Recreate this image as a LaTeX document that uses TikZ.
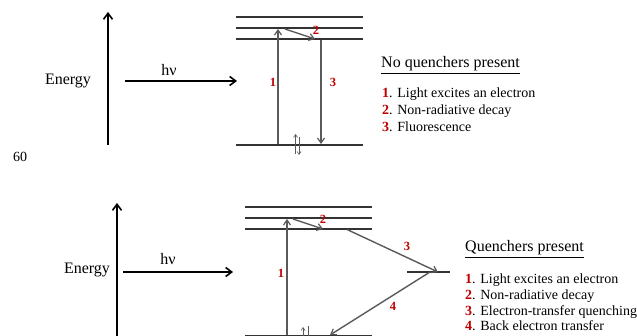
\documentclass[tikz,border=0pt]{standalone}
\usepackage{fontspec}
\setmainfont{Liberation Serif}
\usetikzlibrary{arrows.meta}
\definecolor{lvl}{HTML}{333333}
\definecolor{arr}{HTML}{5A5A5A}
\definecolor{nred}{HTML}{C00000}
\newcommand{\rn}[1]{\textcolor{nred}{\textbf{#1}}}
\begin{document}
\begin{tikzpicture}[x=1pt,y=-1pt,
  level/.style={draw=lvl,line width=1.8pt},
  trans/.style={draw=arr,line width=1.4pt,-{Straight Barb[length=5pt,width=7pt,line width=1.2pt]}},
  axis/.style={draw=black,line width=1.8pt,-{Straight Barb[length=6pt,width=9pt,line width=1.6pt]}},
  spin/.style={draw=arr,line width=0.6pt,-{Straight Barb[length=3pt,width=4pt]}},
  num/.style={text=nred,font=\fontsize{12.5}{14}\selectfont\bfseries,inner sep=0pt},
  big/.style={font=\fontsize{16}{19}\selectfont,inner sep=0pt},
  item/.style={font=\fontsize{14}{17}\selectfont,inner sep=0pt,anchor=base west},
  ttl/.style={font=\fontsize{16}{19}\selectfont,inner sep=0pt,anchor=base west}]
\useasboundingbox (0,0) rectangle (637,336);
\fill[white] (0,0) rectangle (637,336);

% ---------- top diagram ----------
\coordinate (eA0) at (108,145); \coordinate (eA1) at (108,12);
\draw[axis] (eA0) -- (eA1);
\node[big] (en1) at (68,81) {Energy};
\coordinate (hA0) at (125,81); \coordinate (hA1) at (237,81);
\draw[axis] (hA0) -- (hA1);
\node[big] (hv1) at (169,70) {hν};

\coordinate (aL1) at (236,17); \coordinate (aR1) at (363,17);
\coordinate (aL2) at (236,28); \coordinate (aR2) at (363,28);
\coordinate (aL3) at (236,39); \coordinate (aR3) at (363,39);
\coordinate (aLg) at (236,145); \coordinate (aRg) at (363,145);
\draw[level] (aL1) -- (aR1);
\draw[level] (aL2) -- (aR2);
\draw[level] (aL3) -- (aR3);
\draw[level] (aLg) -- (aRg);

\coordinate (t1a) at (278,144); \coordinate (t1b) at (278,29);
\coordinate (t2a) at (285,29); \coordinate (t2b) at (315,39);
\coordinate (t3a) at (321,40); \coordinate (t3b) at (321,144);
\draw[trans] (t1a) -- (t1b);
\draw[trans] (t2a) -- (t2b);
\draw[trans] (t3a) -- (t3b);
\node[num] (n1a) at (273,82) {1};
\node[num] (n2a) at (316,30) {2};
\node[num] (n3a) at (333,82) {3};

\coordinate (s1a) at (295.5,154); \coordinate (s1b) at (295.5,134);
\coordinate (s2a) at (299,137); \coordinate (s2b) at (299,155);
\draw[spin] (s1a) -- (s1b);
\draw[spin] (s2a) -- (s2b);

\node[ttl] (tt1) at (381,68) {\underline{No quenchers present}};
\node[item] (i11) at (382,98) {\rn{1}. Light excites an electron};
\node[item] (i12) at (382,115) {\rn{2}. Non-radiative decay};
\node[item] (i13) at (382,132) {\rn{3}. Fluorescence};

\node[font=\fontsize{14}{17}\selectfont,inner sep=0pt] (pg) at (20,157) {60};

% ---------- bottom diagram ----------
\coordinate (eB0) at (117,345); \coordinate (eB1) at (117,203);
\draw[axis] (eB0) -- (eB1);
\node[big] (en2) at (87,270) {Energy};
\coordinate (hB0) at (123,272); \coordinate (hB1) at (233,272);
\draw[axis] (hB0) -- (hB1);
\node[big] (hv2) at (168,259) {hν};

\coordinate (bL1) at (245,207); \coordinate (bR1) at (372,207);
\coordinate (bL2) at (245,218); \coordinate (bR2) at (372,218);
\coordinate (bL3) at (245,229); \coordinate (bR3) at (372,229);
\coordinate (bLg) at (245,335.5); \coordinate (bRg) at (372,335.5);
\coordinate (qL) at (407,272); \coordinate (qR) at (450,272);
\draw[level] (bL1) -- (bR1);
\draw[level] (bL2) -- (bR2);
\draw[level] (bL3) -- (bR3);
\draw[level] (bLg) -- (bRg);
\draw[lvl,line width=1.4pt] (qL) -- (qR);

\coordinate (u1a) at (287,335); \coordinate (u1b) at (287,219);
\coordinate (u2a) at (293,219); \coordinate (u2b) at (323,229);
\coordinate (u3a) at (347,229.5); \coordinate (u3b) at (438,272);
\coordinate (u4a) at (430,272); \coordinate (u4b) at (330,335);
\draw[trans] (u1a) -- (u1b);
\draw[trans] (u2a) -- (u2b);
\draw[trans] (u3a) -- (u3b);
\draw[trans] (u4a) -- (u4b);
\node[num] (n1b) at (281,273) {1};
\node[num] (n2b) at (323,219) {2};
\node[num] (n3b) at (407,246) {3};
\node[num] (n4b) at (393,306) {4};

\coordinate (v1a) at (303,340); \coordinate (v1b) at (303,327);
\coordinate (v2a) at (308,326); \coordinate (v2b) at (308,345);
\draw[spin] (v1a) -- (v1b);
\draw[spin] (v2a) -- (v2b);

\node[ttl] (tt2) at (465,252) {\underline{Quenchers present}};
\node[item] (i21) at (465,284) {\rn{1}. Light excites an electron};
\node[item] (i22) at (465,300) {\rn{2}. Non-radiative decay};
\node[item] (i23) at (465,316) {\rn{3}. Electron-transfer quenching};
\node[item] (i24) at (465,331) {\rn{4}. Back electron transfer};
\end{tikzpicture}
\end{document}
